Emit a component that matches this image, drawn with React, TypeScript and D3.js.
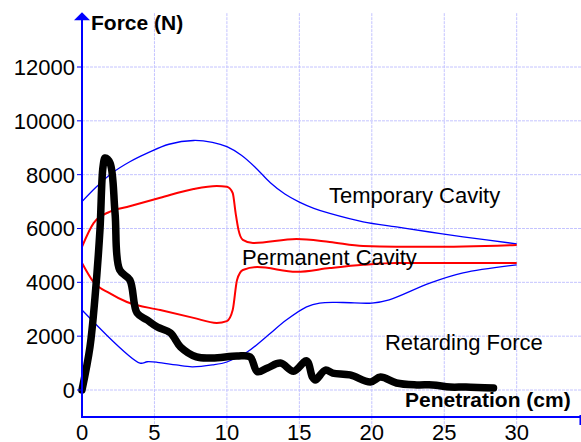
import React from "react";
import * as d3 from "d3";

const W = 581;
const H = 442;

const xTicks = [0, 5, 10, 15, 20, 25, 30];
const yTicks = [0, 2000, 4000, 6000, 8000, 10000, 12000];

// Temporary cavity (blue) upper boundary
const tempUpperX = [0, 1, 2.1, 3.3, 4.5, 6.0, 7.7, 9.0, 10, 11, 12, 13, 14, 15, 16, 17.1, 19.4, 21.7, 24, 26.3, 30];
const tempUpperY = [7000, 7550, 8070, 8480, 8800, 9130, 9270, 9200, 9040, 8720, 8250, 7700, 7280, 6980, 6750, 6560, 6250, 6060, 5870, 5690, 5430];

// Temporary cavity (blue) lower boundary
const tempLowerX = [0, 4.0, 4.5, 5.2, 6.5, 7.6, 9.0, 10, 11.4, 12.7, 14.1, 15.5, 16.4, 18, 20, 21.2, 24, 26.3, 30];
const tempLowerY = [2970, 1000, 1050, 1030, 930, 860, 930, 1040, 1410, 1970, 2600, 3090, 3230, 3250, 3230, 3350, 3970, 4350, 4650];

// Permanent cavity (red) upper boundary
const permUpperX = [0, 0.8, 1.9, 3.1, 5.4, 7.7, 9.3, 10.0, 10.4, 10.6, 10.8, 11.1, 11.8, 14.8, 17.1, 19.4, 21.7, 24, 30];
const permUpperY = [5320, 6200, 6620, 6800, 7140, 7470, 7580, 7550, 7320, 6580, 5950, 5580, 5460, 5610, 5500, 5350, 5320, 5320, 5390];

// Permanent cavity (red) lower boundary
const permLowerX = [0, 0.8, 1.9, 3.1, 5.4, 7.7, 9.3, 10.0, 10.4, 10.7, 11.1, 12.1, 14.8, 17.1, 19.4, 21.7, 30];
const permLowerY = [4720, 4010, 3600, 3270, 2970, 2680, 2490, 2560, 2970, 4090, 4460, 4570, 4390, 4530, 4650, 4720, 4720];

// Retarding force (black)
const forceX = [0, 0.55, 0.9, 1.24, 1.45, 1.6, 1.93, 2.28, 2.6, 3.3, 3.8, 4.5, 5.2, 6.1, 6.8, 7.9, 9.0, 10.7, 11.6, 12.1, 12.8, 13.7, 14.6, 15.5, 15.9, 16.1, 16.8, 17.3, 18.5, 19.9, 20.6, 21.7, 23.1, 24.2, 25.4, 26.5, 28.4];
const forceY = [0, 1600, 3460, 5950, 8290, 8620, 8440, 6580, 4460, 4090, 2860, 2600, 2340, 2120, 1600, 1230, 1190, 1260, 1230, 680, 820, 1000, 700, 1080, 480, 370, 740, 630, 560, 300, 480, 260, 190, 190, 110, 110, 70];

const labels = [
  { text: "Temporary Cavity", x0: 17.05, yb: 6950 },
  { text: "Permanent Cavity", x0: 11.04, yb: 4640 },
  { text: "Retarding Force", x0: 20.91, yb: 1490 },
];

export default function App() {
  const x = d3.scaleLinear().domain([0, 30]).range([82, 516.7]);
  const y = d3.scaleLinear().domain([0, 12000]).range([390, 67]);
  const yMin = -1000;
  const yMax = 14000;
  const xMax = 34.4;

  const smooth = d3
    .line<[number, number]>()
    .x((d) => x(d[0]))
    .y((d) => y(d[1]))
    .curve(d3.curveCatmullRom.alpha(0.5));
  const mono = d3
    .line<[number, number]>()
    .x((d) => x(d[0]))
    .y((d) => y(d[1]))
    .curve(d3.curveMonotoneX);

  const zip = (a: number[], b: number[]) => a.map((v, i) => [v, b[i]] as [number, number]);

  const grid = "#c4c4ff";
  const font = "'Liberation Sans', Arial, sans-serif";

  return (
    <svg
      width={W}
      height={H}
      style={{ position: "absolute", left: 0, top: 0, background: "#fff" }}
    >
      {/* grid */}
      {xTicks.filter((t) => t > 0).map((t) => (
        <line key={"gx" + t} x1={x(t)} x2={x(t)} y1={y(yMax)} y2={y(yMin) + 12}
          stroke={grid} strokeWidth={1} strokeDasharray="3,1" />
      ))}
      {yTicks.map((t) => (
        <line key={"gy" + t} x1={x(0)} x2={W} y1={y(t)} y2={y(t)}
          stroke={grid} strokeWidth={1} strokeDasharray="3,1" />
      ))}

      {/* curves */}
      <path d={smooth(zip(tempUpperX, tempUpperY)) || ""} fill="none" stroke="#0000ff" strokeWidth={1.3} />
      <path d={smooth(zip(tempLowerX, tempLowerY)) || ""} fill="none" stroke="#0000ff" strokeWidth={1.3} />
      <path d={mono(zip(permUpperX, permUpperY)) || ""} fill="none" stroke="#ff0000" strokeWidth={2} />
      <path d={mono(zip(permLowerX, permLowerY)) || ""} fill="none" stroke="#ff0000" strokeWidth={2} />
      <path d={smooth(zip(forceX, forceY)) || ""} fill="none" stroke="#000" strokeWidth={7.5}
        strokeLinejoin="round" strokeLinecap="round" />

      {/* axes */}
      <line x1={x(0)} x2={x(0)} y1={y(yMax) + 4} y2={y(yMin)} stroke="#0000ff" strokeWidth={2} />
      <polygon
        points={`${x(0)},${y(yMax) - 1} ${x(0) - 8},${y(yMax) + 7} ${x(0) + 8},${y(yMax) + 7}`}
        fill="#0000ff"
      />
      <line x1={x(0) - 1} x2={x(xMax)} y1={y(yMin)} y2={y(yMin)} stroke="#0000ff" strokeWidth={2} />
      <line x1={x(xMax)} x2={x(xMax)} y1={y(yMin) - 2} y2={y(yMin) + 8} stroke="#0000ff" strokeWidth={2} />
      {yTicks.map((t) => (
        <g key={"yt" + t}>
          <line x1={x(0) - 5} x2={x(0)} y1={y(t)} y2={y(t)} stroke="#0000ff" strokeWidth={1} />
          <text x={x(0) - 7} y={y(t)} dy="0.36em" textAnchor="end" fontFamily={font} fontSize={22} fill="#000">
            {t}
          </text>
        </g>
      ))}
      {xTicks.map((t) => (
        <text key={"xt" + t} x={x(t)} y={440} textAnchor="middle" fontFamily={font} fontSize={22} fill="#000">
          {t}
        </text>
      ))}

      {/* axis titles */}
      <text x={91} y={30} fontFamily={font} fontSize={21} fontWeight="bold" fill="#000">Force (N)</text>
      <text x={405} y={407} fontFamily={font} fontSize={21} fontWeight="bold" fill="#000">Penetration (cm)</text>

      {/* series labels */}
      {labels.map((l) => (
        <text key={l.text} x={x(l.x0)} y={y(l.yb)} textAnchor="start"
          fontFamily={font} fontSize={22} fill="#000">
          {l.text}
        </text>
      ))}
    </svg>
  );
}
